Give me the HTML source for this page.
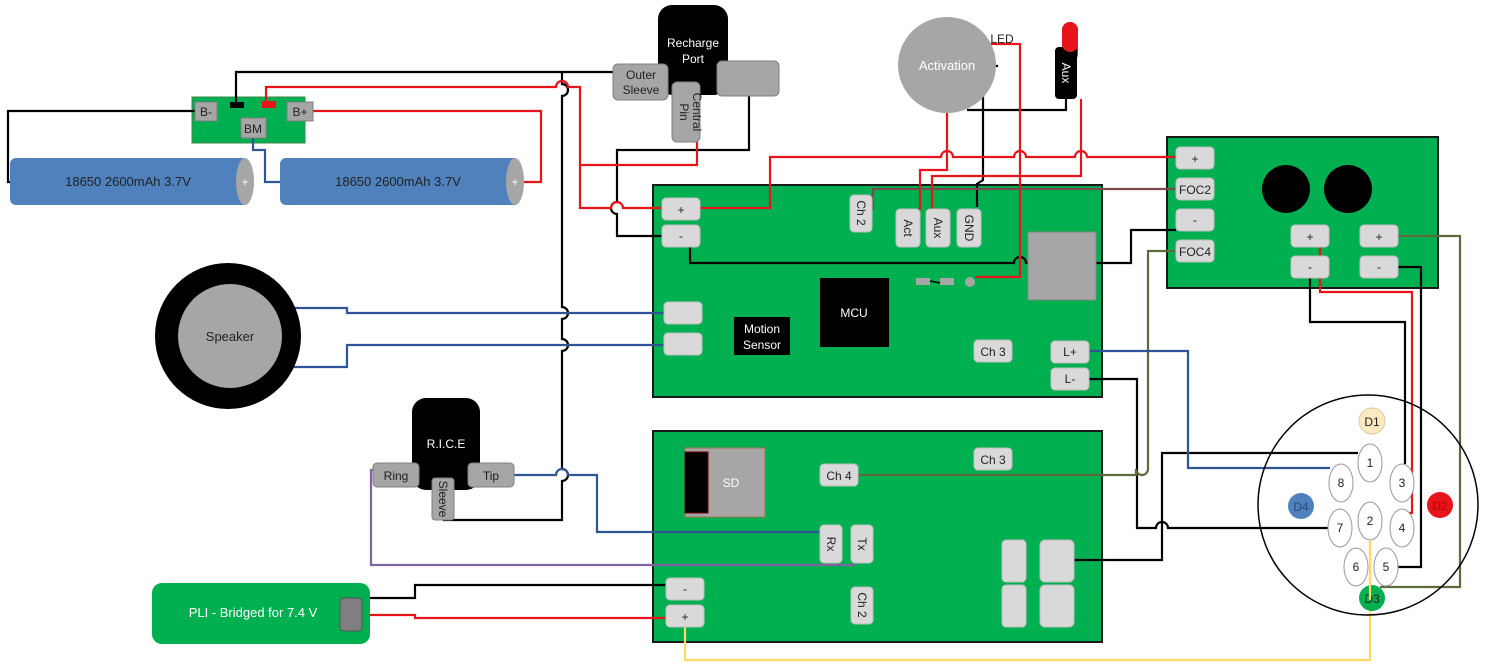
<!DOCTYPE html>
<html><head><meta charset="utf-8"><style>
html,body{margin:0;padding:0;background:#fff;}
svg{display:block;font-family:"Liberation Sans","DejaVu Sans",sans-serif;}
.p{fill:#d9d9d9;stroke:#bfbfbf;stroke-width:1;}
.g{fill:#a6a6a6;stroke:#7f7f7f;stroke-width:1;}
.t{font-size:12px;fill:#222;text-anchor:middle;}
.w{fill:none;stroke-width:2.2;stroke-linejoin:miter;}
.k{stroke:#000;} .r{stroke:#e8141b;} .b{stroke:#2f5597;} .br{stroke:#7b4b4b;} .o{stroke:#5b6b3b;} .pu{stroke:#8064a2;} .y{stroke:#ffd966;}
</style></head><body>
<svg width="1486" height="667" viewBox="0 0 1486 667">
<!-- boards -->
<rect x="653" y="185" width="449" height="212" fill="#00b050" stroke="#1a1a1a" stroke-width="2"/>
<rect x="653" y="431" width="449" height="211" fill="#00b050" stroke="#1a1a1a" stroke-width="2"/>
<rect x="1167" y="137" width="271" height="151" fill="#00b050" stroke="#1a1a1a" stroke-width="2"/>
<rect x="192" y="97" width="113" height="46" fill="#00b050" stroke="#3a8a4a" stroke-width="1"/>

<!-- wires -->
<path class="w k" d="M195,111 H8 V182 H12"/>
<path class="w k" d="M236,102 V72 H613"/>
<path class="w k" d="M562,72 V84 a6,6 0 0 1 0,12 V307 a6,6 0 0 1 0,12 V339 a6,6 0 0 1 0,12 V469 a6,6 0 0 1 0,12 V520 H443"/>
<path class="w k" d="M749,96 V150 H617 V202 a6,6 0 0 0 0,12 V236 H662"/>
<path class="w k" d="M690,247 V263 H1014 a6,6 0 0 1 12,0 H1131 V230 H1176"/>
<path class="w k" d="M998,66 H983 V180 L977,184 V207"/>
<path class="w k" d="M967,110 H1066 V99"/>
<path class="w k" d="M1089,379 H1137 V528 H1156 a6,6 0 0 1 12,0 H1328"/>
<path class="w k" d="M1074,560 H1162 V453 H1358"/>
<path class="w k" d="M1310,277 V322 H1405 V464"/>
<path class="w k" d="M1398,267 H1421 V567 H1398"/>
<path class="w k" d="M370,598 H415 V585 H666"/>

<path class="w r" d="M266,102 V87 H556 a6,6 0 0 1 12,0 H580 V165 H697 V142"/>
<path class="w r" d="M580,165 V208 H611 a6,6 0 0 1 12,0 H662"/>
<path class="w r" d="M313,111 H541 V182 H520"/>
<path class="w r" d="M700,208 H770 V157 H941 a6,6 0 0 1 12,0 H1014 a6,6 0 0 1 12,0 H1075 a6,6 0 0 1 12,0 H1176"/>
<path class="w r" d="M947,113 V170 H920 V210"/>
<path class="w r" d="M1081,99 V176 H932 V210"/>
<path class="w r" d="M990,44 H1020 V277 H975"/>
<path class="w r" d="M1320,246 V292 H1412 V513 H1405"/>
<path class="w r" d="M370,615 H415 V618 H666"/>

<path class="w br" d="M1176,189 H873 V210"/>
<path class="w o" d="M1176,251 H1148 V469 a6,6 0 0 1 -12,0 V475 H858"/>
<path class="w o" d="M1398,236 H1460 V587 H1380"/>
<path class="w b" d="M290,308 H347 V313 H664"/>
<path class="w b" d="M290,367 H347 V345 H664"/>
<path class="w b" d="M253,138 V150 H265 V182 H280"/>
<path class="w b" d="M1089,351 H1188 V468 H1330"/>
<path class="w b" d="M514,475 H556 a6,6 0 0 1 12,0 H597 V532 H830"/>
<path class="w pu" d="M373,470 H371 V565 H855"/>
<path class="w y" d="M685,627 V660 H1370 V520"/>

<!-- batteries -->
<rect x="10" y="158" width="240" height="47" rx="6" fill="#4f81bd"/>
<ellipse cx="245" cy="181.5" rx="9" ry="23.5" fill="#a6a6a6"/>
<text x="128" y="186" class="t" style="font-size:13px">18650 2600mAh 3.7V</text>
<text x="245" y="186" class="t" style="fill:#fff">+</text>
<rect x="280" y="158" width="240" height="47" rx="6" fill="#4f81bd"/>
<ellipse cx="515" cy="181.5" rx="9" ry="23.5" fill="#a6a6a6"/>
<text x="398" y="186" class="t" style="font-size:13px">18650 2600mAh 3.7V</text>
<text x="515" y="186" class="t" style="fill:#fff">+</text>

<!-- BMS -->
<rect x="195" y="102" width="22" height="19" class="g"/><text x="206" y="116" class="t">B-</text>
<rect x="241" y="118" width="25" height="20" class="g"/><text x="253" y="133" class="t">BM</text>
<rect x="287" y="102" width="26" height="19" class="g"/><text x="300" y="116" class="t">B+</text>
<rect x="230" y="102" width="14" height="6" fill="#000"/>
<rect x="262" y="101" width="14" height="7" fill="#e8141b"/>

<!-- recharge port -->
<rect x="658" y="5" width="70" height="90" rx="14" fill="#000"/>
<text x="693" y="47" class="t" style="fill:#fff">Recharge</text>
<text x="693" y="63" class="t" style="fill:#fff">Port</text>
<rect x="613" y="64" width="55" height="36" rx="5" class="g"/>
<text x="641" y="79" class="t">Outer</text><text x="641" y="94" class="t">Sleeve</text>
<rect x="672" y="82" width="28" height="60" rx="5" class="g"/>
<text transform="translate(693,112) rotate(90)" class="t">Central</text>
<text transform="translate(680,112) rotate(90)" class="t">Pin</text>
<rect x="717" y="61" width="62" height="35" rx="5" class="g"/>

<!-- activation & aux -->
<ellipse cx="947" cy="65" rx="49" ry="48" fill="#a6a6a6"/>
<text x="947" y="70" class="t" style="fill:#fff;font-size:13px">Activation</text>
<text x="1002" y="43" class="t">LED</text>
<rect x="1062" y="22" width="16" height="40" rx="8" fill="#e8141b"/>
<rect x="1055" y="47" width="22" height="52" rx="4" fill="#000"/>
<rect x="1062" y="22" width="16" height="30" rx="8" fill="#e8141b"/>
<text transform="translate(1062,73) rotate(90)" class="t" style="fill:#fff">Aux</text>

<!-- board1 pads -->
<rect x="662" y="198" width="38" height="22" rx="4" class="p"/><text x="681" y="214" class="t">+</text>
<rect x="662" y="225" width="38" height="22" rx="4" class="p"/><text x="681" y="240" class="t">-</text>
<rect x="664" y="302" width="38" height="22" rx="4" class="p"/>
<rect x="664" y="333" width="38" height="22" rx="4" class="p"/>
<rect x="734" y="317" width="56" height="38" fill="#000"/>
<text x="762" y="333" class="t" style="fill:#fff">Motion</text><text x="762" y="349" class="t" style="fill:#fff">Sensor</text>
<rect x="820" y="278" width="69" height="69" fill="#000"/>
<text x="854" y="317" class="t" style="fill:#fff">MCU</text>
<rect x="974" y="340" width="38" height="22" rx="4" class="p"/><text x="993" y="356" class="t">Ch 3</text>
<rect x="1051" y="341" width="38" height="22" rx="4" class="p"/><text x="1070" y="356" class="t">L+</text>
<rect x="1051" y="368" width="38" height="22" rx="4" class="p"/><text x="1070" y="383" class="t">L-</text>
<rect x="850" y="195" width="22" height="37" rx="4" class="p"/><text transform="translate(857,213) rotate(90)" class="t">Ch 2</text>
<rect x="896" y="209" width="24" height="38" rx="4" class="p"/><text transform="translate(904,228) rotate(90)" class="t">Act</text>
<rect x="926" y="209" width="24" height="38" rx="4" class="p"/><text transform="translate(934,228) rotate(90)" class="t">Aux</text>
<rect x="957" y="209" width="24" height="38" rx="4" class="p"/><text transform="translate(965,228) rotate(90)" class="t">GND</text>
<rect x="1028" y="232" width="68" height="68" fill="#a6a6a6" stroke="#888"/>
<rect x="916" y="278" width="14" height="7" fill="#a6a6a6"/><rect x="940" y="278" width="14" height="7" fill="#a6a6a6"/>
<path d="M930,281 L940,283" stroke="#000" stroke-width="1.5"/>
<circle cx="970" cy="282" r="5" fill="#a6a6a6"/>

<!-- board2 pads -->
<rect x="685" y="448" width="80" height="69" fill="#a6a6a6" stroke="#b07050"/>
<rect x="685" y="452" width="23" height="61" fill="#000" stroke="#700"/>
<text x="731" y="487" class="t" style="fill:#fff">SD</text>
<rect x="820" y="464" width="38" height="22" rx="4" class="p"/><text x="839" y="480" class="t">Ch 4</text>
<rect x="974" y="448" width="38" height="22" rx="4" class="p"/><text x="993" y="464" class="t">Ch 3</text>
<rect x="820" y="525" width="22" height="38" rx="4" class="p"/><text transform="translate(827,544) rotate(90)" class="t">Rx</text>
<rect x="851" y="525" width="22" height="38" rx="4" class="p"/><text transform="translate(858,544) rotate(90)" class="t">Tx</text>
<rect x="666" y="578" width="38" height="22" rx="4" class="p"/><text x="685" y="593" class="t">-</text>
<rect x="666" y="605" width="38" height="22" rx="4" class="p"/><text x="685" y="621" class="t">+</text>
<rect x="851" y="587" width="22" height="37" rx="4" class="p"/><text transform="translate(858,605) rotate(90)" class="t">Ch 2</text>
<rect x="1002" y="540" width="24" height="42" rx="4" class="p"/>
<rect x="1040" y="540" width="34" height="42" rx="5" class="p"/>
<rect x="1002" y="585" width="24" height="42" rx="4" class="p"/>
<rect x="1040" y="585" width="34" height="42" rx="5" class="p"/>

<!-- top right board -->
<rect x="1176" y="147" width="38" height="22" rx="4" class="p"/><text x="1195" y="163" class="t">+</text>
<rect x="1176" y="178" width="38" height="22" rx="4" class="p"/><text x="1195" y="194" class="t">FOC2</text>
<rect x="1176" y="209" width="38" height="22" rx="4" class="p"/><text x="1195" y="224" class="t">-</text>
<rect x="1176" y="240" width="38" height="22" rx="4" class="p"/><text x="1195" y="256" class="t">FOC4</text>
<ellipse cx="1286" cy="189" rx="24" ry="24" fill="#000"/>
<ellipse cx="1348" cy="189" rx="24" ry="24" fill="#000"/>
<rect x="1291" y="225" width="38" height="22" rx="4" class="p"/><text x="1310" y="241" class="t">+</text>
<rect x="1291" y="256" width="38" height="22" rx="4" class="p"/><text x="1310" y="271" class="t">-</text>
<rect x="1360" y="225" width="38" height="22" rx="4" class="p"/><text x="1379" y="241" class="t">+</text>
<rect x="1360" y="256" width="38" height="22" rx="4" class="p"/><text x="1379" y="271" class="t">-</text>

<!-- speaker -->
<circle cx="228" cy="336" r="73" fill="#000"/>
<ellipse cx="230" cy="336" rx="52" ry="52" fill="#a6a6a6"/>
<text x="230" y="341" class="t" style="font-size:13px">Speaker</text>

<!-- RICE -->
<rect x="412" y="398" width="68" height="92" rx="14" fill="#000"/>
<text x="446" y="448" class="t" style="fill:#fff">R.I.C.E</text>
<rect x="373" y="463" width="46" height="24" rx="4" class="g"/><text x="396" y="480" class="t">Ring</text>
<rect x="468" y="463" width="46" height="24" rx="4" class="g"/><text x="491" y="480" class="t">Tip</text>
<rect x="432" y="478" width="22" height="42" rx="3" class="g"/><text transform="translate(439,499) rotate(90)" class="t">Sleeve</text>

<!-- PLI -->
<rect x="152" y="583" width="218" height="61" rx="10" fill="#00b050"/>
<text x="253" y="617" class="t" style="fill:#fff;font-size:13px">PLI - Bridged for 7.4 V</text>
<rect x="340" y="598" width="22" height="33" rx="4" fill="#7f7f7f" stroke="#555"/>

<!-- connector -->
<circle cx="1368" cy="505" r="110" fill="none" stroke="#000" stroke-width="1.5"/>
<circle cx="1372" cy="421" r="13" fill="#fde9c0" stroke="#d9c9a0"/><text x="1372" y="426" class="t">D1</text>
<circle cx="1301" cy="506" r="13" fill="#4f81bd"/><text x="1301" y="511" class="t" style="fill:#2f4a7a">D4</text>
<circle cx="1440" cy="505" r="13" fill="#e8141b"/><text x="1440" y="510" class="t" style="fill:#b00">D2</text>
<circle cx="1372" cy="598" r="13" fill="#00b050"/><text x="1372" y="603" class="t">D3</text>
<g fill="#fff" stroke="#999">
<ellipse cx="1370" cy="463" rx="12" ry="19"/><ellipse cx="1341" cy="483" rx="12" ry="19"/>
<ellipse cx="1402" cy="483" rx="12" ry="19"/><ellipse cx="1340" cy="528" rx="12" ry="19"/>
<ellipse cx="1370" cy="521" rx="12" ry="19"/><ellipse cx="1402" cy="528" rx="12" ry="19"/>
<ellipse cx="1356" cy="567" rx="12" ry="19"/><ellipse cx="1386" cy="567" rx="12" ry="19"/>
</g>
<path class="w y" d="M1370,540 V600"/>
<g class="t">
<text x="1370" y="467">1</text><text x="1341" y="487">8</text><text x="1402" y="487">3</text>
<text x="1340" y="532">7</text><text x="1370" y="525">2</text><text x="1402" y="532">4</text>
<text x="1356" y="571">6</text><text x="1386" y="571">5</text>
</g>
</svg>
</body></html>
